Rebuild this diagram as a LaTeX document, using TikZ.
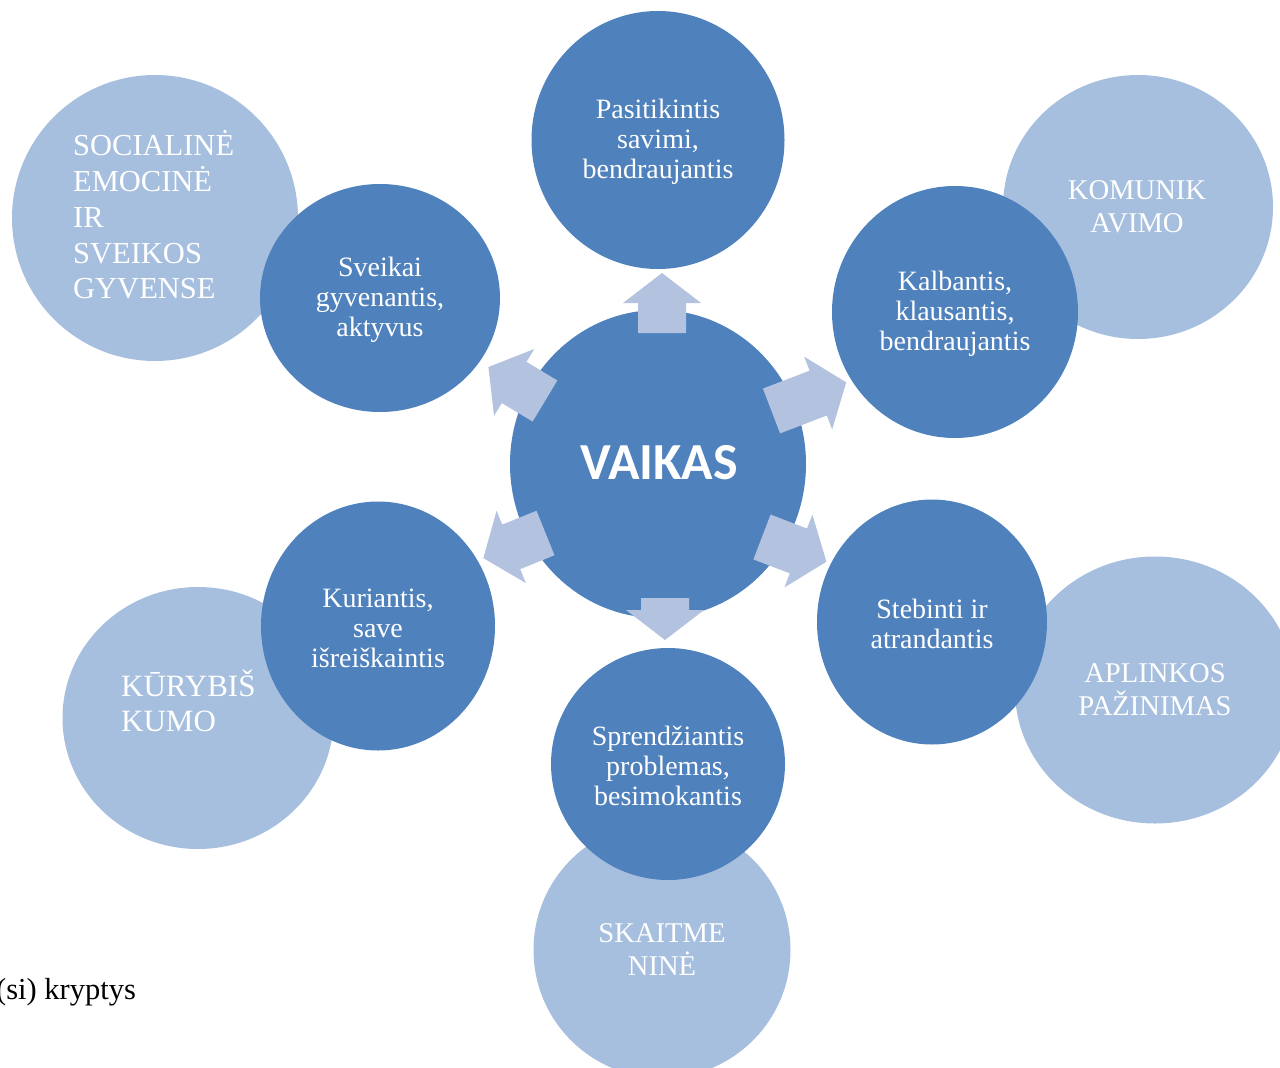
\documentclass[tikz,border=0pt]{standalone}
\usepackage{fontspec}
\setmainfont{Liberation Serif}
\newfontfamily\vaikasfont{Carlito}
\usetikzlibrary{shapes.geometric}
\definecolor{darkblue}{HTML}{4F81BD}
\definecolor{lightblue}{HTML}{A7BFDE}
\definecolor{arrowblue}{HTML}{B3C2DE}
\tikzset{
  darkcirc/.style={ellipse, fill=darkblue, inner sep=0pt, minimum width=10pt},
  darktext/.style={text=white, inner sep=0pt, align=center,
    font=\fontsize{28}{30}\selectfont},
  lightcirc/.style={ellipse, fill=lightblue, inner sep=0pt},
  lighttext/.style={text=white, inner sep=0pt, font=\fontsize{28.6}{33}\selectfont},
  blockarrow/.style={fill=arrowblue},
}
\newcommand{\blkarrow}[4]{%
  \fill[blockarrow, shift={(#1,#2)}, rotate=#3]
    (0,-24) -- (#4-30,-24) -- (#4-30,-39) -- (#4,0) -- (#4-30,39) -- (#4-30,24) -- (0,24) -- cycle;}
\begin{document}
\begin{tikzpicture}[x=1pt,y=-1pt]
\useasboundingbox (0,0) rectangle (1280,1068);
\clip (0,0) rectangle (1280,1068);
% light circles
\node[lightcirc, minimum width=286, minimum height=286] (lsoc) at (155,218) {};
\node[lightcirc, minimum width=270, minimum height=264] (lkom) at (1138,207) {};
\node[lightcirc, minimum width=280, minimum height=267] (lapl) at (1155,690) {};
\node[lightcirc, minimum width=257, minimum height=256] (lska) at (662,950) {};
\node[lightcirc, minimum width=271, minimum height=262] (lkur) at (198,718) {};
% light texts
\node[lighttext, anchor=west, align=left, font=\fontsize{30.5}{35.7}\selectfont] (tsoc) at (73,215) {SOCIALINĖ\\EMOCINĖ\\IR\\SVEIKOS\\GYVENSE};
\node[lighttext, align=center] (tkom) at (1137,207) {KOMUNIK\\AVIMO};
\node[lighttext, align=center] (tapl) at (1155,690) {APLINKOS\\PAŽINIMAS};
\node[lighttext, align=center] (tska) at (662,950) {SKAITME\\NINĖ};
\node[lighttext, anchor=west, align=left, font=\fontsize{31}{35}\selectfont] (tkur) at (121,701) {KŪRYBIŠ\\KUMO};
% dark circles
\node[darkcirc, minimum width=253, minimum height=258] (top) at (658,140) {};
\node[darkcirc, minimum width=246, minimum height=252] (ur) at (955,312) {};
\node[darkcirc, minimum width=230, minimum height=245] (lr) at (932,622) {};
\node[darkcirc, minimum width=234, minimum height=232] (bot) at (668,764) {};
\node[darkcirc, minimum width=234, minimum height=249] (ll) at (378,626) {};
\node[darkcirc, minimum width=240, minimum height=228] (ul) at (380,298) {};
\node[darktext] (ttop) at (658,142) {Pasitikintis\\savimi,\\bendraujantis};
\node[darktext] (tur) at (955,314) {Kalbantis,\\klausantis,\\bendraujantis};
\node[darktext] (tlr) at (932,624) {Stebinti ir\\atrandantis};
\node[darktext] (tbot) at (668,766) {Sprendžiantis\\problemas,\\besimokantis};
\node[darktext] (tll) at (378,628) {Kuriantis,\\save\\išreiškaintis};
\node[darktext] (tul) at (380,300) {Sveikai\\gyvenantis,\\aktyvus};
% centre
\node[ellipse, fill=darkblue, inner sep=0pt, minimum width=296, minimum height=308] (c) at (658,464) {};
\node[text=white, inner sep=0pt, font=\vaikasfont\bfseries\fontsize{52}{56}\selectfont] (tc) at (659,463) {VAIKAS};
% arrows
\blkarrow{662}{333}{90}{60}
\blkarrow{665}{598}{-90}{42}
\blkarrow{771.5}{411}{21}{80}
\blkarrow{545}{401}{149}{66}
\blkarrow{545.5}{533}{202}{67}
\blkarrow{762}{537}{-21}{69}
% caption fragment
\node[anchor=base west, inner sep=0pt, font=\fontsize{30.5}{32}\selectfont] (cap) at (-4,999) {(si) kryptys};
\end{tikzpicture}
\end{document}
